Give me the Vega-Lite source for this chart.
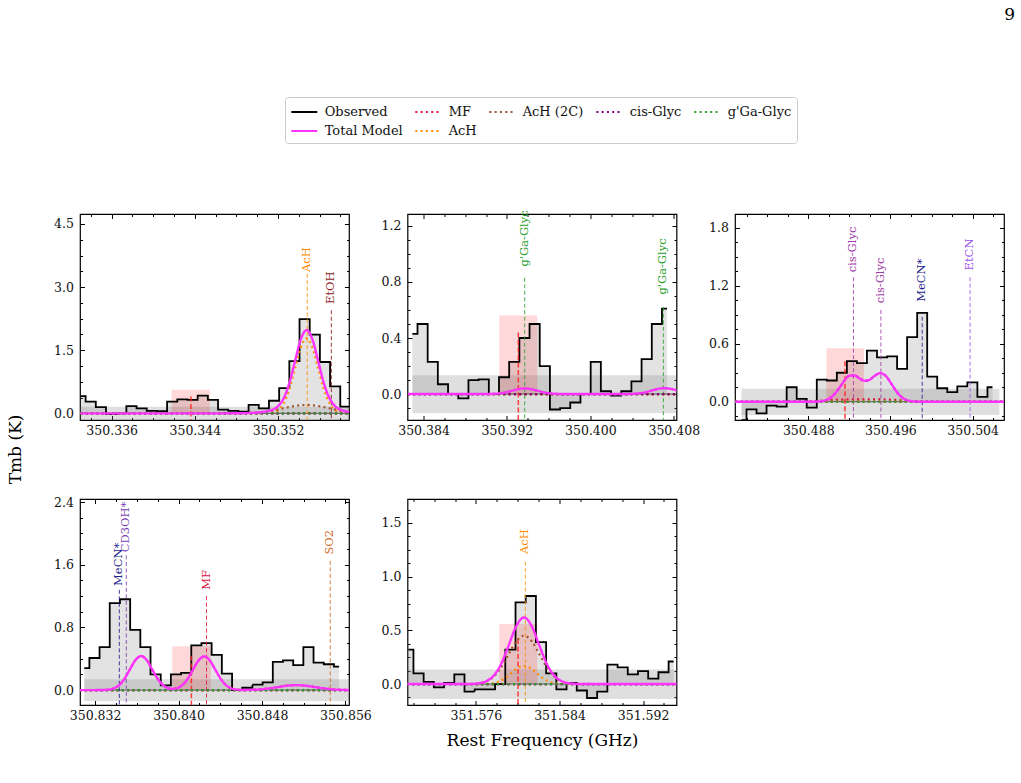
{
"$schema": "https://vega.github.io/schema/vega-lite/v6.json",
"background": "white",
"padding": {"left": 5, "top": 5, "right": 5, "bottom": 5},
"title": {"text": "9", "anchor": "end", "fontSize": 17, "font": "DejaVu Serif", "fontWeight": "normal", "color": "#000", "offset": 73, "dx": 10},
"datasets": {
"band": [
{"p":1,"x1":350.333,"x2":350.35946,"lo":-0.158,"hi":0.158},
{"p":2,"x1":350.38293,"x2":350.40826,"lo":-0.135,"hi":0.135},
{"p":3,"x1":350.4815,"x2":350.5066,"lo":-0.137,"hi":0.134},
{"p":4,"x1":350.83096,"x2":350.85634,"lo":-0.138,"hi":0.14},
{"p":5,"x1":351.56945,"x2":351.5952,"lo":-0.139,"hi":0.136}],
"hl": [
{"p":1,"c":350.34362,"lo":350.34176,"hi":350.34544,"h":0.56,"rt":0.4},
{"p":2,"c":350.39309,"lo":350.39126,"hi":350.39491,"h":0.56,"rt":0.44},
{"p":3,"c":350.49157,"lo":350.48977,"hi":350.49343,"h":0.555,"rt":0.42},
{"p":4,"c":350.84123,"lo":350.8394,"hi":350.84309,"h":0.56,"rt":0.44},
{"p":5,"c":351.58003,"lo":351.57823,"hi":351.58187,"h":0.56,"rt":0.42}],
"mk": [
{"p":1,"x":350.35481,"top":3.32,"ly":3.36,"name":"AcH"},
{"p":1,"x":350.35713,"top":2.45,"ly":2.6,"name":"EtOH"},
{"p":2,"x":350.3937,"top":0.83,"ly":0.91,"name":"g'Ga-Glyc"},
{"p":2,"x":350.407,"top":0.62,"ly":0.71,"name":"g'Ga-Glyc"},
{"p":3,"x":350.4924,"top":1.29,"ly":1.34,"name":"cis-Glyc"},
{"p":3,"x":350.49507,"top":0.95,"ly":1.02,"name":"cis-Glyc"},
{"p":3,"x":350.49909,"top":0.88,"ly":1.035,"name":"MeCN*"},
{"p":3,"x":350.50375,"top":1.29,"ly":1.36,"name":"EtCN"},
{"p":4,"x":350.83432,"top":1.28,"ly":1.33,"name":"MeCN*"},
{"p":4,"x":350.83499,"top":1.72,"ly":1.76,"name":"CD3OH*"},
{"p":4,"x":350.84268,"top":1.2,"ly":1.28,"name":"MF"},
{"p":4,"x":350.85454,"top":1.65,"ly":1.73,"name":"SO2"},
{"p":5,"x":351.58073,"top":1.14,"ly":1.21,"name":"AcH"}],
"obs1": [
{"x":350.33300,"y":0.41,"s":"Observed"},{"x":350.33398,"y":0.28,"s":"Observed"},{"x":350.33496,"y":0.15,"s":"Observed"},{"x":350.33594,"y":-0.02,"s":"Observed"},{"x":350.33692,"y":0.0,"s":"Observed"},{"x":350.33790,"y":0.17,"s":"Observed"},{"x":350.33888,"y":0.12,"s":"Observed"},{"x":350.33986,"y":0.06,"s":"Observed"},{"x":350.34084,"y":0.05,"s":"Observed"},{"x":350.34182,"y":0.28,"s":"Observed"},{"x":350.34280,"y":0.33,"s":"Observed"},{"x":350.34378,"y":0.32,"s":"Observed"},{"x":350.34476,"y":0.42,"s":"Observed"},{"x":350.34574,"y":0.32,"s":"Observed"},{"x":350.34672,"y":0.09,"s":"Observed"},{"x":350.34770,"y":0.06,"s":"Observed"},{"x":350.34868,"y":0.04,"s":"Observed"},{"x":350.34966,"y":0.20,"s":"Observed"},{"x":350.35064,"y":0.12,"s":"Observed"},{"x":350.35162,"y":0.30,"s":"Observed"},{"x":350.35260,"y":0.60,"s":"Observed"},{"x":350.35358,"y":1.24,"s":"Observed"},{"x":350.35456,"y":2.24,"s":"Observed"},{"x":350.35554,"y":1.87,"s":"Observed"},{"x":350.35652,"y":1.22,"s":"Observed"},{"x":350.35750,"y":0.64,"s":"Observed"},{"x":350.35848,"y":0.16,"s":"Observed"},{"x":350.35946,"y":0.10,"s":"Observed"}],
"obs2": [
{"x":350.38293,"y":0.43,"s":"Observed"},{"x":350.38391,"y":0.50,"s":"Observed"},{"x":350.38488,"y":0.23,"s":"Observed"},{"x":350.38586,"y":0.07,"s":"Observed"},{"x":350.38684,"y":0.0,"s":"Observed"},{"x":350.38782,"y":-0.03,"s":"Observed"},{"x":350.38879,"y":0.10,"s":"Observed"},{"x":350.38977,"y":0.105,"s":"Observed"},{"x":350.39075,"y":0.0,"s":"Observed"},{"x":350.39172,"y":0.12,"s":"Observed"},{"x":350.39270,"y":0.23,"s":"Observed"},{"x":350.39368,"y":0.40,"s":"Observed"},{"x":350.39465,"y":0.50,"s":"Observed"},{"x":350.39563,"y":0.20,"s":"Observed"},{"x":350.39661,"y":-0.11,"s":"Observed"},{"x":350.39758,"y":-0.10,"s":"Observed"},{"x":350.39856,"y":-0.06,"s":"Observed"},{"x":350.39954,"y":0.0,"s":"Observed"},{"x":350.40052,"y":0.23,"s":"Observed"},{"x":350.40149,"y":0.02,"s":"Observed"},{"x":350.40247,"y":-0.01,"s":"Observed"},{"x":350.40345,"y":0.02,"s":"Observed"},{"x":350.40442,"y":0.09,"s":"Observed"},{"x":350.40540,"y":0.25,"s":"Observed"},{"x":350.40638,"y":0.50,"s":"Observed"},{"x":350.40735,"y":0.61,"s":"Observed"}],
"obs3": [
{"x":350.48150,"y":-0.19,"s":"Observed"},{"x":350.48248,"y":-0.08,"s":"Observed"},{"x":350.48345,"y":-0.12,"s":"Observed"},{"x":350.48443,"y":-0.04,"s":"Observed"},{"x":350.48541,"y":-0.05,"s":"Observed"},{"x":350.48639,"y":0.15,"s":"Observed"},{"x":350.48736,"y":0.03,"s":"Observed"},{"x":350.48834,"y":-0.06,"s":"Observed"},{"x":350.48932,"y":0.23,"s":"Observed"},{"x":350.49029,"y":0.22,"s":"Observed"},{"x":350.49127,"y":0.30,"s":"Observed"},{"x":350.49225,"y":0.42,"s":"Observed"},{"x":350.49322,"y":0.40,"s":"Observed"},{"x":350.49420,"y":0.53,"s":"Observed"},{"x":350.49518,"y":0.46,"s":"Observed"},{"x":350.49616,"y":0.47,"s":"Observed"},{"x":350.49713,"y":0.34,"s":"Observed"},{"x":350.49811,"y":0.67,"s":"Observed"},{"x":350.49909,"y":0.92,"s":"Observed"},{"x":350.50006,"y":0.26,"s":"Observed"},{"x":350.50104,"y":0.14,"s":"Observed"},{"x":350.50202,"y":0.10,"s":"Observed"},{"x":350.50299,"y":0.16,"s":"Observed"},{"x":350.50397,"y":0.20,"s":"Observed"},{"x":350.50495,"y":0.05,"s":"Observed"},{"x":350.50593,"y":0.15,"s":"Observed"}],
"obs4": [
{"x":350.83096,"y":0.28,"s":"Observed"},{"x":350.83194,"y":0.41,"s":"Observed"},{"x":350.83291,"y":0.55,"s":"Observed"},{"x":350.83389,"y":1.11,"s":"Observed"},{"x":350.83487,"y":1.16,"s":"Observed"},{"x":350.83585,"y":0.77,"s":"Observed"},{"x":350.83682,"y":0.55,"s":"Observed"},{"x":350.83780,"y":0.20,"s":"Observed"},{"x":350.83878,"y":0.06,"s":"Observed"},{"x":350.83975,"y":0.20,"s":"Observed"},{"x":350.84073,"y":0.22,"s":"Observed"},{"x":350.84171,"y":0.57,"s":"Observed"},{"x":350.84268,"y":0.60,"s":"Observed"},{"x":350.84366,"y":0.45,"s":"Observed"},{"x":350.84464,"y":0.21,"s":"Observed"},{"x":350.84562,"y":0.0,"s":"Observed"},{"x":350.84659,"y":0.03,"s":"Observed"},{"x":350.84757,"y":0.07,"s":"Observed"},{"x":350.84855,"y":0.10,"s":"Observed"},{"x":350.84952,"y":0.36,"s":"Observed"},{"x":350.85050,"y":0.38,"s":"Observed"},{"x":350.85148,"y":0.32,"s":"Observed"},{"x":350.85245,"y":0.55,"s":"Observed"},{"x":350.85343,"y":0.35,"s":"Observed"},{"x":350.85441,"y":0.33,"s":"Observed"},{"x":350.85539,"y":0.30,"s":"Observed"}],
"obs5": [
{"x":351.56953,"y":0.32,"s":"Observed"},{"x":351.57051,"y":0.10,"s":"Observed"},{"x":351.57148,"y":0.02,"s":"Observed"},{"x":351.57246,"y":-0.03,"s":"Observed"},{"x":351.57344,"y":0.01,"s":"Observed"},{"x":351.57442,"y":0.09,"s":"Observed"},{"x":351.57539,"y":-0.07,"s":"Observed"},{"x":351.57637,"y":-0.05,"s":"Observed"},{"x":351.57735,"y":-0.05,"s":"Observed"},{"x":351.57832,"y":0.0,"s":"Observed"},{"x":351.57930,"y":0.32,"s":"Observed"},{"x":351.58028,"y":0.76,"s":"Observed"},{"x":351.58125,"y":0.82,"s":"Observed"},{"x":351.58223,"y":0.39,"s":"Observed"},{"x":351.58321,"y":0.10,"s":"Observed"},{"x":351.58419,"y":-0.05,"s":"Observed"},{"x":351.58516,"y":0.01,"s":"Observed"},{"x":351.58614,"y":-0.06,"s":"Observed"},{"x":351.58712,"y":-0.13,"s":"Observed"},{"x":351.58809,"y":-0.07,"s":"Observed"},{"x":351.58907,"y":0.18,"s":"Observed"},{"x":351.59005,"y":0.155,"s":"Observed"},{"x":351.59102,"y":0.09,"s":"Observed"},{"x":351.59200,"y":0.12,"s":"Observed"},{"x":351.59298,"y":0.05,"s":"Observed"},{"x":351.59396,"y":0.11,"s":"Observed"},{"x":351.59493,"y":0.21,"s":"Observed"}],
"mod1": [
{"x":350.333,"y":0,"s":"MF"},{"x":350.3595,"y":0,"s":"MF"},
{"x":350.333,"y":0,"s":"AcH"},{"x":350.35,"y":0,"s":"AcH"},{"x":350.3509,"y":0.004,"s":"AcH"},{"x":350.35145,"y":0.02,"s":"AcH"},{"x":350.352,"y":0.078,"s":"AcH"},{"x":350.35255,"y":0.241,"s":"AcH"},{"x":350.3531,"y":0.578,"s":"AcH"},{"x":350.35365,"y":1.08,"s":"AcH"},{"x":350.3542,"y":1.571,"s":"AcH"},{"x":350.35475,"y":1.78,"s":"AcH"},{"x":350.3553,"y":1.571,"s":"AcH"},{"x":350.35585,"y":1.08,"s":"AcH"},{"x":350.3564,"y":0.578,"s":"AcH"},{"x":350.35695,"y":0.241,"s":"AcH"},{"x":350.3575,"y":0.078,"s":"AcH"},{"x":350.35805,"y":0.02,"s":"AcH"},{"x":350.3586,"y":0.004,"s":"AcH"},{"x":350.3592,"y":0,"s":"AcH"},
{"x":350.333,"y":0,"s":"AcH (2C)"},{"x":350.346,"y":0,"s":"AcH (2C)"},{"x":350.34705,"y":0.0004,"s":"AcH (2C)"},{"x":350.34815,"y":0.0022,"s":"AcH (2C)"},{"x":350.34925,"y":0.0088,"s":"AcH (2C)"},{"x":350.35035,"y":0.027,"s":"AcH (2C)"},{"x":350.35145,"y":0.065,"s":"AcH (2C)"},{"x":350.35255,"y":0.121,"s":"AcH (2C)"},{"x":350.35365,"y":0.1765,"s":"AcH (2C)"},{"x":350.35475,"y":0.2,"s":"AcH (2C)"},{"x":350.35585,"y":0.1765,"s":"AcH (2C)"},{"x":350.35695,"y":0.121,"s":"AcH (2C)"},{"x":350.35805,"y":0.065,"s":"AcH (2C)"},{"x":350.35915,"y":0.027,"s":"AcH (2C)"},
{"x":350.333,"y":0,"s":"cis-Glyc"},{"x":350.3595,"y":0,"s":"cis-Glyc"},
{"x":350.333,"y":0,"s":"g'Ga-Glyc"},{"x":350.3595,"y":0,"s":"g'Ga-Glyc"},
{"x":350.333,"y":0,"s":"Total Model"},{"x":350.347,"y":0.0004,"s":"Total Model"},{"x":350.34815,"y":0.002,"s":"Total Model"},{"x":350.34925,"y":0.009,"s":"Total Model"},{"x":350.35035,"y":0.027,"s":"Total Model"},{"x":350.3509,"y":0.047,"s":"Total Model"},{"x":350.35145,"y":0.085,"s":"Total Model"},{"x":350.352,"y":0.17,"s":"Total Model"},{"x":350.35255,"y":0.362,"s":"Total Model"},{"x":350.3531,"y":0.729,"s":"Total Model"},{"x":350.35365,"y":1.256,"s":"Total Model"},{"x":350.3542,"y":1.765,"s":"Total Model"},{"x":350.35475,"y":1.98,"s":"Total Model"},{"x":350.3553,"y":1.765,"s":"Total Model"},{"x":350.35585,"y":1.256,"s":"Total Model"},{"x":350.3564,"y":0.729,"s":"Total Model"},{"x":350.35695,"y":0.362,"s":"Total Model"},{"x":350.3575,"y":0.17,"s":"Total Model"},{"x":350.35805,"y":0.085,"s":"Total Model"},{"x":350.3586,"y":0.047,"s":"Total Model"},{"x":350.3592,"y":0.02,"s":"Total Model"}],
"mod2": [
{"x":350.3825,"y":0,"s":"MF"},{"x":350.4083,"y":0,"s":"MF"},
{"x":350.3825,"y":0,"s":"AcH"},{"x":350.4083,"y":0,"s":"AcH"},
{"x":350.3825,"y":0,"s":"AcH (2C)"},{"x":350.4083,"y":0,"s":"AcH (2C)"},
{"x":350.3825,"y":0,"s":"cis-Glyc"},{"x":350.4083,"y":0,"s":"cis-Glyc"},
{"x":350.3825,"y":0,"s":"g'Ga-Glyc"},{"x":350.3895,"y":0.0001,"s":"g'Ga-Glyc"},{"x":350.3901,"y":0.0004,"s":"g'Ga-Glyc"},{"x":350.3907,"y":0.0018,"s":"g'Ga-Glyc"},{"x":350.3913,"y":0.0054,"s":"g'Ga-Glyc"},{"x":350.3919,"y":0.013,"s":"g'Ga-Glyc"},{"x":350.3925,"y":0.0243,"s":"g'Ga-Glyc"},{"x":350.3931,"y":0.0353,"s":"g'Ga-Glyc"},{"x":350.3937,"y":0.04,"s":"g'Ga-Glyc"},{"x":350.3943,"y":0.0353,"s":"g'Ga-Glyc"},{"x":350.3949,"y":0.0243,"s":"g'Ga-Glyc"},{"x":350.3955,"y":0.013,"s":"g'Ga-Glyc"},{"x":350.3961,"y":0.0054,"s":"g'Ga-Glyc"},{"x":350.3967,"y":0.0018,"s":"g'Ga-Glyc"},{"x":350.3973,"y":0.0004,"s":"g'Ga-Glyc"},{"x":350.3979,"y":0.0001,"s":"g'Ga-Glyc"},{"x":350.4029,"y":0.0001,"s":"g'Ga-Glyc"},{"x":350.4035,"y":0.0005,"s":"g'Ga-Glyc"},{"x":350.4041,"y":0.0018,"s":"g'Ga-Glyc"},{"x":350.4047,"y":0.0057,"s":"g'Ga-Glyc"},{"x":350.4053,"y":0.0136,"s":"g'Ga-Glyc"},{"x":350.4059,"y":0.0255,"s":"g'Ga-Glyc"},{"x":350.4065,"y":0.0371,"s":"g'Ga-Glyc"},{"x":350.4071,"y":0.042,"s":"g'Ga-Glyc"},{"x":350.4077,"y":0.0371,"s":"g'Ga-Glyc"},{"x":350.4083,"y":0.0255,"s":"g'Ga-Glyc"},
{"x":350.3825,"y":0,"s":"Total Model"},{"x":350.3895,"y":0.0001,"s":"Total Model"},{"x":350.3901,"y":0.0004,"s":"Total Model"},{"x":350.3907,"y":0.0018,"s":"Total Model"},{"x":350.3913,"y":0.0054,"s":"Total Model"},{"x":350.3919,"y":0.013,"s":"Total Model"},{"x":350.3925,"y":0.0243,"s":"Total Model"},{"x":350.3931,"y":0.0353,"s":"Total Model"},{"x":350.3937,"y":0.04,"s":"Total Model"},{"x":350.3943,"y":0.0353,"s":"Total Model"},{"x":350.3949,"y":0.0243,"s":"Total Model"},{"x":350.3955,"y":0.013,"s":"Total Model"},{"x":350.3961,"y":0.0054,"s":"Total Model"},{"x":350.3967,"y":0.0018,"s":"Total Model"},{"x":350.3973,"y":0.0004,"s":"Total Model"},{"x":350.3979,"y":0.0001,"s":"Total Model"},{"x":350.4029,"y":0.0001,"s":"Total Model"},{"x":350.4035,"y":0.0005,"s":"Total Model"},{"x":350.4041,"y":0.0018,"s":"Total Model"},{"x":350.4047,"y":0.0057,"s":"Total Model"},{"x":350.4053,"y":0.0136,"s":"Total Model"},{"x":350.4059,"y":0.0255,"s":"Total Model"},{"x":350.4065,"y":0.0371,"s":"Total Model"},{"x":350.4071,"y":0.042,"s":"Total Model"},{"x":350.4077,"y":0.0371,"s":"Total Model"},{"x":350.4083,"y":0.0255,"s":"Total Model"}],
"mod3": [
{"x":350.4809,"y":0,"s":"MF"},{"x":350.488,"y":0,"s":"MF"},{"x":350.4895,"y":0.012,"s":"MF"},{"x":350.4905,"y":0.02,"s":"MF"},{"x":350.492,"y":0.024,"s":"MF"},{"x":350.4935,"y":0.025,"s":"MF"},{"x":350.495,"y":0.024,"s":"MF"},{"x":350.4965,"y":0.02,"s":"MF"},{"x":350.4975,"y":0.012,"s":"MF"},{"x":350.499,"y":0,"s":"MF"},{"x":350.5071,"y":0,"s":"MF"},
{"x":350.4809,"y":0,"s":"AcH"},{"x":350.5071,"y":0,"s":"AcH"},
{"x":350.4809,"y":0,"s":"AcH (2C)"},{"x":350.5071,"y":0,"s":"AcH (2C)"},
{"x":350.4809,"y":0,"s":"cis-Glyc"},{"x":350.4885,"y":0.0005,"s":"cis-Glyc"},{"x":350.489,"y":0.003,"s":"cis-Glyc"},{"x":350.4895,"y":0.01,"s":"cis-Glyc"},{"x":350.49,"y":0.03,"s":"cis-Glyc"},{"x":350.4905,"y":0.073,"s":"cis-Glyc"},{"x":350.491,"y":0.14,"s":"cis-Glyc"},{"x":350.4915,"y":0.217,"s":"cis-Glyc"},{"x":350.492,"y":0.269,"s":"cis-Glyc"},{"x":350.4925,"y":0.273,"s":"cis-Glyc"},{"x":350.493,"y":0.241,"s":"cis-Glyc"},{"x":350.4935,"y":0.217,"s":"cis-Glyc"},{"x":350.494,"y":0.23,"s":"cis-Glyc"},{"x":350.4945,"y":0.271,"s":"cis-Glyc"},{"x":350.495,"y":0.296,"s":"cis-Glyc"},{"x":350.4955,"y":0.272,"s":"cis-Glyc"},{"x":350.496,"y":0.201,"s":"cis-Glyc"},{"x":350.4965,"y":0.119,"s":"cis-Glyc"},{"x":350.497,"y":0.056,"s":"cis-Glyc"},{"x":350.4975,"y":0.021,"s":"cis-Glyc"},{"x":350.498,"y":0.0064,"s":"cis-Glyc"},{"x":350.4985,"y":0.0015,"s":"cis-Glyc"},{"x":350.499,"y":0.0003,"s":"cis-Glyc"},{"x":350.5071,"y":0,"s":"cis-Glyc"},
{"x":350.4809,"y":0,"s":"g'Ga-Glyc"},{"x":350.5071,"y":0,"s":"g'Ga-Glyc"},
{"x":350.4809,"y":0,"s":"Total Model"},{"x":350.4885,"y":0.0005,"s":"Total Model"},{"x":350.489,"y":0.003,"s":"Total Model"},{"x":350.4895,"y":0.01,"s":"Total Model"},{"x":350.49,"y":0.03,"s":"Total Model"},{"x":350.4905,"y":0.073,"s":"Total Model"},{"x":350.491,"y":0.14,"s":"Total Model"},{"x":350.4915,"y":0.217,"s":"Total Model"},{"x":350.492,"y":0.269,"s":"Total Model"},{"x":350.4925,"y":0.273,"s":"Total Model"},{"x":350.493,"y":0.241,"s":"Total Model"},{"x":350.4935,"y":0.217,"s":"Total Model"},{"x":350.494,"y":0.23,"s":"Total Model"},{"x":350.4945,"y":0.271,"s":"Total Model"},{"x":350.495,"y":0.296,"s":"Total Model"},{"x":350.4955,"y":0.272,"s":"Total Model"},{"x":350.496,"y":0.201,"s":"Total Model"},{"x":350.4965,"y":0.119,"s":"Total Model"},{"x":350.497,"y":0.056,"s":"Total Model"},{"x":350.4975,"y":0.021,"s":"Total Model"},{"x":350.498,"y":0.0064,"s":"Total Model"},{"x":350.4985,"y":0.0015,"s":"Total Model"},{"x":350.499,"y":0.0003,"s":"Total Model"},{"x":350.5071,"y":0,"s":"Total Model"}],
"mod4": [
{"x":350.8305,"y":0,"s":"MF"},{"x":350.83266,"y":0.001,"s":"MF"},{"x":350.8332,"y":0.005,"s":"MF"},{"x":350.83373,"y":0.019,"s":"MF"},{"x":350.83426,"y":0.059,"s":"MF"},{"x":350.8348,"y":0.141,"s":"MF"},{"x":350.83533,"y":0.264,"s":"MF"},{"x":350.83587,"y":0.384,"s":"MF"},{"x":350.8364,"y":0.435,"s":"MF"},{"x":350.83694,"y":0.384,"s":"MF"},{"x":350.83747,"y":0.264,"s":"MF"},{"x":350.83801,"y":0.141,"s":"MF"},{"x":350.83854,"y":0.06,"s":"MF"},{"x":350.83908,"y":0.022,"s":"MF"},{"x":350.8394,"y":0.016,"s":"MF"},{"x":350.83978,"y":0.022,"s":"MF"},{"x":350.84031,"y":0.059,"s":"MF"},{"x":350.84085,"y":0.14,"s":"MF"},{"x":350.84138,"y":0.261,"s":"MF"},{"x":350.84192,"y":0.379,"s":"MF"},{"x":350.84245,"y":0.43,"s":"MF"},{"x":350.84299,"y":0.379,"s":"MF"},{"x":350.84352,"y":0.261,"s":"MF"},{"x":350.84406,"y":0.14,"s":"MF"},{"x":350.84459,"y":0.058,"s":"MF"},{"x":350.84513,"y":0.019,"s":"MF"},{"x":350.84566,"y":0.006,"s":"MF"},{"x":350.8462,"y":0.002,"s":"MF"},{"x":350.8468,"y":0.003,"s":"MF"},{"x":350.8477,"y":0.0087,"s":"MF"},{"x":350.8486,"y":0.0208,"s":"MF"},{"x":350.8495,"y":0.0388,"s":"MF"},{"x":350.8504,"y":0.0565,"s":"MF"},{"x":350.8513,"y":0.064,"s":"MF"},{"x":350.8522,"y":0.0565,"s":"MF"},{"x":350.8531,"y":0.0388,"s":"MF"},{"x":350.854,"y":0.0208,"s":"MF"},{"x":350.8549,"y":0.0087,"s":"MF"},{"x":350.8558,"y":0.0028,"s":"MF"},{"x":350.8567,"y":0.0007,"s":"MF"},
{"x":350.8305,"y":0,"s":"AcH"},{"x":350.8567,"y":0,"s":"AcH"},
{"x":350.8305,"y":0,"s":"AcH (2C)"},{"x":350.8567,"y":0,"s":"AcH (2C)"},
{"x":350.8305,"y":0,"s":"cis-Glyc"},{"x":350.8567,"y":0,"s":"cis-Glyc"},
{"x":350.8305,"y":0,"s":"g'Ga-Glyc"},{"x":350.8567,"y":0,"s":"g'Ga-Glyc"},
{"x":350.8305,"y":0,"s":"Total Model"},{"x":350.83266,"y":0.001,"s":"Total Model"},{"x":350.8332,"y":0.005,"s":"Total Model"},{"x":350.83373,"y":0.019,"s":"Total Model"},{"x":350.83426,"y":0.059,"s":"Total Model"},{"x":350.8348,"y":0.141,"s":"Total Model"},{"x":350.83533,"y":0.264,"s":"Total Model"},{"x":350.83587,"y":0.384,"s":"Total Model"},{"x":350.8364,"y":0.435,"s":"Total Model"},{"x":350.83694,"y":0.384,"s":"Total Model"},{"x":350.83747,"y":0.264,"s":"Total Model"},{"x":350.83801,"y":0.141,"s":"Total Model"},{"x":350.83854,"y":0.06,"s":"Total Model"},{"x":350.83908,"y":0.022,"s":"Total Model"},{"x":350.8394,"y":0.016,"s":"Total Model"},{"x":350.83978,"y":0.022,"s":"Total Model"},{"x":350.84031,"y":0.059,"s":"Total Model"},{"x":350.84085,"y":0.14,"s":"Total Model"},{"x":350.84138,"y":0.261,"s":"Total Model"},{"x":350.84192,"y":0.379,"s":"Total Model"},{"x":350.84245,"y":0.43,"s":"Total Model"},{"x":350.84299,"y":0.379,"s":"Total Model"},{"x":350.84352,"y":0.261,"s":"Total Model"},{"x":350.84406,"y":0.14,"s":"Total Model"},{"x":350.84459,"y":0.058,"s":"Total Model"},{"x":350.84513,"y":0.019,"s":"Total Model"},{"x":350.84566,"y":0.006,"s":"Total Model"},{"x":350.8462,"y":0.002,"s":"Total Model"},{"x":350.8468,"y":0.003,"s":"Total Model"},{"x":350.8477,"y":0.0087,"s":"Total Model"},{"x":350.8486,"y":0.0208,"s":"Total Model"},{"x":350.8495,"y":0.0388,"s":"Total Model"},{"x":350.8504,"y":0.0565,"s":"Total Model"},{"x":350.8513,"y":0.064,"s":"Total Model"},{"x":350.8522,"y":0.0565,"s":"Total Model"},{"x":350.8531,"y":0.0388,"s":"Total Model"},{"x":350.854,"y":0.0208,"s":"Total Model"},{"x":350.8549,"y":0.0087,"s":"Total Model"},{"x":350.8558,"y":0.0028,"s":"Total Model"},{"x":350.8567,"y":0.0007,"s":"Total Model"}],
"mod5": [
{"x":351.5694,"y":0,"s":"MF"},{"x":351.5953,"y":0,"s":"MF"},
{"x":351.5694,"y":0,"s":"AcH"},{"x":351.5761,"y":0.0001,"s":"AcH"},{"x":351.57685,"y":0.0013,"s":"AcH"},{"x":351.5776,"y":0.0075,"s":"AcH"},{"x":351.57835,"y":0.029,"s":"AcH"},{"x":351.5791,"y":0.078,"s":"AcH"},{"x":351.57985,"y":0.14,"s":"AcH"},{"x":351.5806,"y":0.17,"s":"AcH"},{"x":351.58135,"y":0.14,"s":"AcH"},{"x":351.5821,"y":0.078,"s":"AcH"},{"x":351.58285,"y":0.029,"s":"AcH"},{"x":351.5836,"y":0.0075,"s":"AcH"},{"x":351.58435,"y":0.0013,"s":"AcH"},{"x":351.5851,"y":0.0001,"s":"AcH"},{"x":351.5953,"y":0,"s":"AcH"},
{"x":351.5694,"y":0,"s":"AcH (2C)"},{"x":351.57535,"y":0.001,"s":"AcH (2C)"},{"x":351.5761,"y":0.005,"s":"AcH (2C)"},{"x":351.57685,"y":0.02,"s":"AcH (2C)"},{"x":351.5776,"y":0.061,"s":"AcH (2C)"},{"x":351.57835,"y":0.146,"s":"AcH (2C)"},{"x":351.5791,"y":0.273,"s":"AcH (2C)"},{"x":351.57985,"y":0.397,"s":"AcH (2C)"},{"x":351.5806,"y":0.45,"s":"AcH (2C)"},{"x":351.58135,"y":0.397,"s":"AcH (2C)"},{"x":351.5821,"y":0.273,"s":"AcH (2C)"},{"x":351.58285,"y":0.146,"s":"AcH (2C)"},{"x":351.5836,"y":0.061,"s":"AcH (2C)"},{"x":351.58435,"y":0.02,"s":"AcH (2C)"},{"x":351.5851,"y":0.005,"s":"AcH (2C)"},{"x":351.58585,"y":0.001,"s":"AcH (2C)"},{"x":351.5953,"y":0,"s":"AcH (2C)"},
{"x":351.5694,"y":0,"s":"cis-Glyc"},{"x":351.5953,"y":0,"s":"cis-Glyc"},
{"x":351.5694,"y":0,"s":"g'Ga-Glyc"},{"x":351.5953,"y":0,"s":"g'Ga-Glyc"},
{"x":351.5694,"y":0,"s":"Total Model"},{"x":351.57535,"y":0.001,"s":"Total Model"},{"x":351.5761,"y":0.005,"s":"Total Model"},{"x":351.57685,"y":0.021,"s":"Total Model"},{"x":351.5776,"y":0.068,"s":"Total Model"},{"x":351.57835,"y":0.175,"s":"Total Model"},{"x":351.5791,"y":0.351,"s":"Total Model"},{"x":351.57985,"y":0.537,"s":"Total Model"},{"x":351.5806,"y":0.62,"s":"Total Model"},{"x":351.58135,"y":0.537,"s":"Total Model"},{"x":351.5821,"y":0.351,"s":"Total Model"},{"x":351.58285,"y":0.175,"s":"Total Model"},{"x":351.5836,"y":0.068,"s":"Total Model"},{"x":351.58435,"y":0.021,"s":"Total Model"},{"x":351.5851,"y":0.005,"s":"Total Model"},{"x":351.58585,"y":0.001,"s":"Total Model"},{"x":351.5953,"y":0,"s":"Total Model"}]
},
"concat": [
{"width": 269, "height": 206,
 "resolve": {"axis": {"x": "independent", "y": "independent"}},
 "layer": [
  {"data": {"name": "band"}, "transform": [{"filter": "datum.p == 1"}],
   "mark": {"type": "rect", "color": "#808080", "opacity": 0.25, "clip": true},
   "encoding": {
    "x": {"field": "x1", "type": "quantitative", "scale": {"domain": [350.33295, 350.35883], "nice": false, "zero": false},
          "axis": {"orient": "bottom", "values": [350.336, 350.344, 350.352], "format": ".3f", "tickSize": -4.5, "labelPadding": 9, "title": null}},
    "x2": {"field": "x2"},
    "y": {"field": "lo", "type": "quantitative", "scale": {"domain": [-0.158, 4.737], "nice": false, "zero": false},
          "axis": {"orient": "left", "values": [0, 1.5, 3, 4.5], "format": ".1f", "tickSize": -4.5, "labelPadding": 11,
                   "title": "Tmb (K)", "titleX": -56, "titleY": 235, "titleFontSize": 17, "titleFont": "DejaVu Serif", "titleFontWeight": "normal", "titleColor": "#000"}},
    "y2": {"field": "hi"}}},
  {"data": {"name": "obs1"},
   "mark": {"type": "area", "interpolate": "step", "color": "#808080", "opacity": 0.22, "clip": true},
   "encoding": {
    "x": {"field": "x", "type": "quantitative", "axis": {"orient": "top", "values": [350.336, 350.344, 350.352], "labels": false, "tickSize": -4.5, "title": null}},
    "y": {"field": "y", "type": "quantitative", "axis": {"orient": "right", "values": [0, 1.5, 3, 4.5], "labels": false, "tickSize": -4.5, "title": null}},
    "y2": {"datum": 0}}},
  {"data": {"name": "hl"}, "transform": [{"filter": "datum.p == 1"}],
   "mark": {"type": "rect", "color": "#ff0000", "opacity": 0.15},
   "encoding": {
    "x": {"field": "lo", "type": "quantitative", "axis": {"orient": "top", "values": [350.334, 350.338, 350.340, 350.342, 350.346, 350.348, 350.350, 350.354, 350.356, 350.358], "labels": false, "tickSize": -2.5, "title": null}},
    "x2": {"field": "hi"},
    "y": {"field": "h", "type": "quantitative", "axis": {"orient": "right", "values": [0.375, 0.75, 1.125, 1.875, 2.25, 2.625, 3.375, 3.75, 4.125], "labels": false, "tickSize": -2.5, "title": null}},
    "y2": {"datum": 0}}},
  {"data": {"values": [{}]}, "mark": {"type": "rule", "color": "#555", "strokeWidth": 1},
   "encoding": {"y": {"datum": 0, "type": "quantitative", "axis": null}}},
  {"data": {"name": "obs1"},
   "mark": {"type": "line", "interpolate": "step", "strokeWidth": 1.8, "clip": true},
   "encoding": {
    "x": {"field": "x", "type": "quantitative", "axis": {"orient": "bottom", "values": [350.334, 350.338, 350.340, 350.342, 350.346, 350.348, 350.350, 350.354, 350.356, 350.358], "labels": false, "tickSize": -2.5, "title": null}},
    "y": {"field": "y", "type": "quantitative", "axis": {"orient": "left", "values": [0.375, 0.75, 1.125, 1.875, 2.25, 2.625, 3.375, 3.75, 4.125], "labels": false, "tickSize": -2.5, "title": null}},
    "color": {"field": "s", "type": "nominal", "title": null, "scale": {"domain": ["Observed", "MF", "AcH (2C)", "cis-Glyc", "g'Ga-Glyc", "Total Model", "AcH"], "range": ["#000000", "#dc143c", "#a0522d", "#800080", "#2ca02c", "#ff33ff", "#ff8c00"]}},
    "strokeDash": {"field": "s", "type": "nominal", "title": null, "scale": {"domain": ["Observed", "MF", "AcH (2C)", "cis-Glyc", "g'Ga-Glyc", "Total Model", "AcH"], "range": [[1, 0], [2, 3.3], [2, 3.3], [2, 3.3], [2, 3.3], [1, 0], [2, 3.3]]}}}},
  {"data": {"name": "mk"}, "transform": [{"filter": "datum.p == 1"}],
   "mark": {"type": "rule", "strokeDash": [4, 2.5], "strokeWidth": 1, "opacity": 0.85},
   "encoding": {
    "x": {"field": "x", "type": "quantitative", "axis": null},
    "y": {"field": "top", "type": "quantitative", "axis": null},
    "y2": {"datum": -0.158},
    "stroke": {"field": "name", "type": "nominal", "legend": null, "scale": {"domain": ["AcH", "EtOH", "g'Ga-Glyc", "cis-Glyc", "MeCN*", "EtCN", "CD3OH*", "MF", "SO2"], "range": ["#ff8c00", "#8b1a1a", "#2ca02c", "#a03ca8", "#1c1c8c", "#9b55ee", "#7b3fb5", "#dc143c", "#d2691e"]}}}},
  {"data": {"name": "hl"}, "transform": [{"filter": "datum.p == 1"}],
   "mark": {"type": "rule", "color": "#ff2020", "strokeDash": [5, 2.5], "strokeWidth": 1.5, "opacity": 0.85},
   "encoding": {"x": {"field": "c", "type": "quantitative", "axis": null}, "y": {"field": "rt", "type": "quantitative", "axis": null}, "y2": {"datum": -0.158}}},
  {"data": {"name": "mod1"}, "transform": [{"filter": "datum.s != 'Total Model'"}],
   "mark": {"type": "line", "interpolate": "monotone", "strokeWidth": 2.2, "clip": true},
   "encoding": {
    "x": {"field": "x", "type": "quantitative", "axis": null},
    "y": {"field": "y", "type": "quantitative", "axis": null},
    "color": {"field": "s", "type": "nominal", "title": null},
    "strokeDash": {"field": "s", "type": "nominal", "title": null}}},
  {"data": {"name": "mod1"}, "transform": [{"filter": "datum.s == 'Total Model'"}],
   "mark": {"type": "line", "interpolate": "monotone", "strokeWidth": 2.4, "clip": true},
   "encoding": {
    "x": {"field": "x", "type": "quantitative", "axis": null},
    "y": {"field": "y", "type": "quantitative", "axis": null},
    "color": {"field": "s", "type": "nominal", "title": null},
    "strokeDash": {"field": "s", "type": "nominal", "title": null}}},
  {"data": {"name": "mk"}, "transform": [{"filter": "datum.p == 1"}],
   "mark": {"type": "text", "angle": 270, "align": "left", "baseline": "middle", "fontSize": 11.5, "font": "DejaVu Serif"},
   "encoding": {
    "x": {"field": "x", "type": "quantitative", "axis": null},
    "y": {"field": "ly", "type": "quantitative", "axis": null},
    "text": {"field": "name"},
    "fill": {"field": "name", "type": "nominal", "legend": null, "scale": {"domain": ["AcH", "EtOH", "g'Ga-Glyc", "cis-Glyc", "MeCN*", "EtCN", "CD3OH*", "MF", "SO2"], "range": ["#ff8c00", "#8b1a1a", "#2ca02c", "#a03ca8", "#1c1c8c", "#9b55ee", "#7b3fb5", "#dc143c", "#d2691e"]}}}}
 ]},
{"width": 269, "height": 206,
 "resolve": {"axis": {"x": "independent", "y": "independent"}},
 "layer": [
  {"data": {"name": "band"}, "transform": [{"filter": "datum.p == 2"}],
   "mark": {"type": "rect", "color": "#808080", "opacity": 0.25, "clip": true},
   "encoding": {
    "x": {"field": "x1", "type": "quantitative", "scale": {"domain": [350.38246, 350.40826], "nice": false, "zero": false},
          "axis": {"orient": "bottom", "values": [350.384, 350.392, 350.400, 350.408], "format": ".3f", "tickSize": -4.5, "labelPadding": 9, "title": null}},
    "x2": {"field": "x2"},
    "y": {"field": "lo", "type": "quantitative", "scale": {"domain": [-0.185, 1.285], "nice": false, "zero": false},
          "axis": {"orient": "left", "values": [0, 0.4, 0.8, 1.2], "format": ".1f", "tickSize": -4.5, "labelPadding": 11, "title": null}},
    "y2": {"field": "hi"}}},
  {"data": {"name": "obs2"},
   "mark": {"type": "area", "interpolate": "step", "color": "#808080", "opacity": 0.22, "clip": true},
   "encoding": {
    "x": {"field": "x", "type": "quantitative", "axis": {"orient": "top", "values": [350.384, 350.392, 350.400, 350.408], "labels": false, "tickSize": -4.5, "title": null}},
    "y": {"field": "y", "type": "quantitative", "axis": {"orient": "right", "values": [0, 0.4, 0.8, 1.2], "labels": false, "tickSize": -4.5, "title": null}},
    "y2": {"datum": 0}}},
  {"data": {"name": "hl"}, "transform": [{"filter": "datum.p == 2"}],
   "mark": {"type": "rect", "color": "#ff0000", "opacity": 0.15},
   "encoding": {
    "x": {"field": "lo", "type": "quantitative", "axis": {"orient": "top", "values": [350.386, 350.388, 350.390, 350.394, 350.396, 350.398, 350.402, 350.404, 350.406], "labels": false, "tickSize": -2.5, "title": null}},
    "x2": {"field": "hi"},
    "y": {"field": "h", "type": "quantitative", "axis": {"orient": "right", "values": [-0.1, 0.1, 0.2, 0.3, 0.5, 0.6, 0.7, 0.9, 1.0, 1.1], "labels": false, "tickSize": -2.5, "title": null}},
    "y2": {"datum": 0}}},
  {"data": {"values": [{}]}, "mark": {"type": "rule", "color": "#555", "strokeWidth": 1},
   "encoding": {"y": {"datum": 0, "type": "quantitative", "axis": null}}},
  {"data": {"name": "obs2"},
   "mark": {"type": "line", "interpolate": "step", "strokeWidth": 1.8, "clip": true},
   "encoding": {
    "x": {"field": "x", "type": "quantitative", "axis": {"orient": "bottom", "values": [350.386, 350.388, 350.390, 350.394, 350.396, 350.398, 350.402, 350.404, 350.406], "labels": false, "tickSize": -2.5, "title": null}},
    "y": {"field": "y", "type": "quantitative", "axis": {"orient": "left", "values": [-0.1, 0.1, 0.2, 0.3, 0.5, 0.6, 0.7, 0.9, 1.0, 1.1], "labels": false, "tickSize": -2.5, "title": null}},
    "color": {"field": "s", "type": "nominal", "title": null},
    "strokeDash": {"field": "s", "type": "nominal", "title": null}}},
  {"data": {"name": "mk"}, "transform": [{"filter": "datum.p == 2"}],
   "mark": {"type": "rule", "strokeDash": [4, 2.5], "strokeWidth": 1, "opacity": 0.85},
   "encoding": {
    "x": {"field": "x", "type": "quantitative", "axis": null},
    "y": {"field": "top", "type": "quantitative", "axis": null},
    "y2": {"datum": -0.185},
    "stroke": {"field": "name", "type": "nominal", "legend": null}}},
  {"data": {"name": "hl"}, "transform": [{"filter": "datum.p == 2"}],
   "mark": {"type": "rule", "color": "#ff2020", "strokeDash": [5, 2.5], "strokeWidth": 1.5, "opacity": 0.85},
   "encoding": {"x": {"field": "c", "type": "quantitative", "axis": null}, "y": {"field": "rt", "type": "quantitative", "axis": null}, "y2": {"datum": -0.185}}},
  {"data": {"name": "mod2"}, "transform": [{"filter": "datum.s != 'Total Model'"}],
   "mark": {"type": "line", "interpolate": "monotone", "strokeWidth": 2.2, "clip": true},
   "encoding": {
    "x": {"field": "x", "type": "quantitative", "axis": null},
    "y": {"field": "y", "type": "quantitative", "axis": null},
    "color": {"field": "s", "type": "nominal", "title": null},
    "strokeDash": {"field": "s", "type": "nominal", "title": null}}},
  {"data": {"name": "mod2"}, "transform": [{"filter": "datum.s == 'Total Model'"}],
   "mark": {"type": "line", "interpolate": "monotone", "strokeWidth": 2.4, "clip": true},
   "encoding": {
    "x": {"field": "x", "type": "quantitative", "axis": null},
    "y": {"field": "y", "type": "quantitative", "axis": null},
    "color": {"field": "s", "type": "nominal", "title": null},
    "strokeDash": {"field": "s", "type": "nominal", "title": null}}},
  {"data": {"name": "mk"}, "transform": [{"filter": "datum.p == 2"}],
   "mark": {"type": "text", "angle": 270, "align": "left", "baseline": "middle", "fontSize": 11.5, "font": "DejaVu Serif"},
   "encoding": {
    "x": {"field": "x", "type": "quantitative", "axis": null},
    "y": {"field": "ly", "type": "quantitative", "axis": null},
    "text": {"field": "name"},
    "fill": {"field": "name", "type": "nominal", "legend": null}}}
 ]},
{"width": 269, "height": 206,
 "resolve": {"axis": {"x": "independent", "y": "independent"}},
 "layer": [
  {"data": {"name": "band"}, "transform": [{"filter": "datum.p == 3"}],
   "mark": {"type": "rect", "color": "#808080", "opacity": 0.25, "clip": true},
   "encoding": {
    "x": {"field": "x1", "type": "quantitative", "scale": {"domain": [350.48087, 350.50705], "nice": false, "zero": false},
          "axis": {"orient": "bottom", "values": [350.488, 350.496, 350.504], "format": ".3f", "tickSize": -4.5, "labelPadding": 9, "title": null}},
    "x2": {"field": "x2"},
    "y": {"field": "lo", "type": "quantitative", "scale": {"domain": [-0.189, 1.944], "nice": false, "zero": false},
          "axis": {"orient": "left", "values": [0, 0.6, 1.2, 1.8], "format": ".1f", "tickSize": -4.5, "labelPadding": 11, "title": null}},
    "y2": {"field": "hi"}}},
  {"data": {"name": "obs3"},
   "mark": {"type": "area", "interpolate": "step", "color": "#808080", "opacity": 0.22, "clip": true},
   "encoding": {
    "x": {"field": "x", "type": "quantitative", "axis": {"orient": "top", "values": [350.488, 350.496, 350.504], "labels": false, "tickSize": -4.5, "title": null}},
    "y": {"field": "y", "type": "quantitative", "axis": {"orient": "right", "values": [0, 0.6, 1.2, 1.8], "labels": false, "tickSize": -4.5, "title": null}},
    "y2": {"datum": 0}}},
  {"data": {"name": "hl"}, "transform": [{"filter": "datum.p == 3"}],
   "mark": {"type": "rect", "color": "#ff0000", "opacity": 0.15},
   "encoding": {
    "x": {"field": "lo", "type": "quantitative", "axis": {"orient": "top", "values": [350.482, 350.484, 350.486, 350.490, 350.492, 350.494, 350.498, 350.500, 350.502, 350.506], "labels": false, "tickSize": -2.5, "title": null}},
    "x2": {"field": "hi"},
    "y": {"field": "h", "type": "quantitative", "axis": {"orient": "right", "values": [-0.15, 0.15, 0.3, 0.45, 0.75, 0.9, 1.05, 1.35, 1.5, 1.65], "labels": false, "tickSize": -2.5, "title": null}},
    "y2": {"datum": 0}}},
  {"data": {"values": [{}]}, "mark": {"type": "rule", "color": "#555", "strokeWidth": 1},
   "encoding": {"y": {"datum": 0, "type": "quantitative", "axis": null}}},
  {"data": {"name": "obs3"},
   "mark": {"type": "line", "interpolate": "step", "strokeWidth": 1.8, "clip": true},
   "encoding": {
    "x": {"field": "x", "type": "quantitative", "axis": {"orient": "bottom", "values": [350.482, 350.484, 350.486, 350.490, 350.492, 350.494, 350.498, 350.500, 350.502, 350.506], "labels": false, "tickSize": -2.5, "title": null}},
    "y": {"field": "y", "type": "quantitative", "axis": {"orient": "left", "values": [-0.15, 0.15, 0.3, 0.45, 0.75, 0.9, 1.05, 1.35, 1.5, 1.65], "labels": false, "tickSize": -2.5, "title": null}},
    "color": {"field": "s", "type": "nominal", "title": null},
    "strokeDash": {"field": "s", "type": "nominal", "title": null}}},
  {"data": {"name": "mk"}, "transform": [{"filter": "datum.p == 3"}],
   "mark": {"type": "rule", "strokeDash": [4, 2.5], "strokeWidth": 1, "opacity": 0.85},
   "encoding": {
    "x": {"field": "x", "type": "quantitative", "axis": null},
    "y": {"field": "top", "type": "quantitative", "axis": null},
    "y2": {"datum": -0.189},
    "stroke": {"field": "name", "type": "nominal", "legend": null}}},
  {"data": {"name": "hl"}, "transform": [{"filter": "datum.p == 3"}],
   "mark": {"type": "rule", "color": "#ff2020", "strokeDash": [5, 2.5], "strokeWidth": 1.5, "opacity": 0.85},
   "encoding": {"x": {"field": "c", "type": "quantitative", "axis": null}, "y": {"field": "rt", "type": "quantitative", "axis": null}, "y2": {"datum": -0.189}}},
  {"data": {"name": "mod3"}, "transform": [{"filter": "datum.s != 'Total Model'"}],
   "mark": {"type": "line", "interpolate": "monotone", "strokeWidth": 2.2, "clip": true},
   "encoding": {
    "x": {"field": "x", "type": "quantitative", "axis": null},
    "y": {"field": "y", "type": "quantitative", "axis": null},
    "color": {"field": "s", "type": "nominal", "title": null},
    "strokeDash": {"field": "s", "type": "nominal", "title": null}}},
  {"data": {"name": "mod3"}, "transform": [{"filter": "datum.s == 'Total Model'"}],
   "mark": {"type": "line", "interpolate": "monotone", "strokeWidth": 2.4, "clip": true},
   "encoding": {
    "x": {"field": "x", "type": "quantitative", "axis": null},
    "y": {"field": "y", "type": "quantitative", "axis": null},
    "color": {"field": "s", "type": "nominal", "title": null},
    "strokeDash": {"field": "s", "type": "nominal", "title": null}}},
  {"data": {"name": "mk"}, "transform": [{"filter": "datum.p == 3"}],
   "mark": {"type": "text", "angle": 270, "align": "left", "baseline": "middle", "fontSize": 11.5, "font": "DejaVu Serif"},
   "encoding": {
    "x": {"field": "x", "type": "quantitative", "axis": null},
    "y": {"field": "ly", "type": "quantitative", "axis": null},
    "text": {"field": "name"},
    "fill": {"field": "name", "type": "nominal", "legend": null}}}
 ]},
{"width": 269, "height": 206,
 "resolve": {"axis": {"x": "independent", "y": "independent"}},
 "layer": [
  {"data": {"name": "band"}, "transform": [{"filter": "datum.p == 4"}],
   "mark": {"type": "rect", "color": "#808080", "opacity": 0.25, "clip": true},
   "encoding": {
    "x": {"field": "x1", "type": "quantitative", "scale": {"domain": [350.83055, 350.85634], "nice": false, "zero": false},
          "axis": {"orient": "bottom", "values": [350.832, 350.840, 350.848, 350.856], "format": ".3f", "tickSize": -4.5, "labelPadding": 9, "title": null}},
    "x2": {"field": "x2"},
    "y": {"field": "lo", "type": "quantitative", "scale": {"domain": [-0.19, 2.44], "nice": false, "zero": false},
          "axis": {"orient": "left", "values": [0, 0.8, 1.6, 2.4], "format": ".1f", "tickSize": -4.5, "labelPadding": 11, "title": null}},
    "y2": {"field": "hi"}}},
  {"data": {"name": "obs4"},
   "mark": {"type": "area", "interpolate": "step", "color": "#808080", "opacity": 0.22, "clip": true},
   "encoding": {
    "x": {"field": "x", "type": "quantitative", "axis": {"orient": "top", "values": [350.832, 350.840, 350.848, 350.856], "labels": false, "tickSize": -4.5, "title": null}},
    "y": {"field": "y", "type": "quantitative", "axis": {"orient": "right", "values": [0, 0.8, 1.6, 2.4], "labels": false, "tickSize": -4.5, "title": null}},
    "y2": {"datum": 0}}},
  {"data": {"name": "hl"}, "transform": [{"filter": "datum.p == 4"}],
   "mark": {"type": "rect", "color": "#ff0000", "opacity": 0.15},
   "encoding": {
    "x": {"field": "lo", "type": "quantitative", "axis": {"orient": "top", "values": [350.834, 350.836, 350.838, 350.842, 350.844, 350.846, 350.850, 350.852, 350.854], "labels": false, "tickSize": -2.5, "title": null}},
    "x2": {"field": "hi"},
    "y": {"field": "h", "type": "quantitative", "axis": {"orient": "right", "values": [0.2, 0.4, 0.6, 1.0, 1.2, 1.4, 1.8, 2.0, 2.2], "labels": false, "tickSize": -2.5, "title": null}},
    "y2": {"datum": 0}}},
  {"data": {"values": [{}]}, "mark": {"type": "rule", "color": "#555", "strokeWidth": 1},
   "encoding": {"y": {"datum": 0, "type": "quantitative", "axis": null}}},
  {"data": {"name": "obs4"},
   "mark": {"type": "line", "interpolate": "step", "strokeWidth": 1.8, "clip": true},
   "encoding": {
    "x": {"field": "x", "type": "quantitative", "axis": {"orient": "bottom", "values": [350.834, 350.836, 350.838, 350.842, 350.844, 350.846, 350.850, 350.852, 350.854], "labels": false, "tickSize": -2.5, "title": null}},
    "y": {"field": "y", "type": "quantitative", "axis": {"orient": "left", "values": [0.2, 0.4, 0.6, 1.0, 1.2, 1.4, 1.8, 2.0, 2.2], "labels": false, "tickSize": -2.5, "title": null}},
    "color": {"field": "s", "type": "nominal", "title": null},
    "strokeDash": {"field": "s", "type": "nominal", "title": null}}},
  {"data": {"name": "mk"}, "transform": [{"filter": "datum.p == 4"}],
   "mark": {"type": "rule", "strokeDash": [4, 2.5], "strokeWidth": 1, "opacity": 0.85},
   "encoding": {
    "x": {"field": "x", "type": "quantitative", "axis": null},
    "y": {"field": "top", "type": "quantitative", "axis": null},
    "y2": {"datum": -0.19},
    "stroke": {"field": "name", "type": "nominal", "legend": null}}},
  {"data": {"name": "hl"}, "transform": [{"filter": "datum.p == 4"}],
   "mark": {"type": "rule", "color": "#ff2020", "strokeDash": [5, 2.5], "strokeWidth": 1.5, "opacity": 0.85},
   "encoding": {"x": {"field": "c", "type": "quantitative", "axis": null}, "y": {"field": "rt", "type": "quantitative", "axis": null}, "y2": {"datum": -0.19}}},
  {"data": {"name": "mod4"}, "transform": [{"filter": "datum.s != 'Total Model'"}],
   "mark": {"type": "line", "interpolate": "monotone", "strokeWidth": 2.2, "clip": true},
   "encoding": {
    "x": {"field": "x", "type": "quantitative", "axis": null},
    "y": {"field": "y", "type": "quantitative", "axis": null},
    "color": {"field": "s", "type": "nominal", "title": null},
    "strokeDash": {"field": "s", "type": "nominal", "title": null}}},
  {"data": {"name": "mod4"}, "transform": [{"filter": "datum.s == 'Total Model'"}],
   "mark": {"type": "line", "interpolate": "monotone", "strokeWidth": 2.4, "clip": true},
   "encoding": {
    "x": {"field": "x", "type": "quantitative", "axis": null},
    "y": {"field": "y", "type": "quantitative", "axis": null},
    "color": {"field": "s", "type": "nominal", "title": null},
    "strokeDash": {"field": "s", "type": "nominal", "title": null}}},
  {"data": {"name": "mk"}, "transform": [{"filter": "datum.p == 4"}],
   "mark": {"type": "text", "angle": 270, "align": "left", "baseline": "middle", "fontSize": 11.5, "font": "DejaVu Serif"},
   "encoding": {
    "x": {"field": "x", "type": "quantitative", "axis": null},
    "y": {"field": "ly", "type": "quantitative", "axis": null},
    "text": {"field": "name"},
    "fill": {"field": "name", "type": "nominal", "legend": null}}}
 ]},
{"width": 269, "height": 206,
 "resolve": {"axis": {"x": "independent", "y": "independent"}},
 "layer": [
  {"data": {"name": "band"}, "transform": [{"filter": "datum.p == 5"}],
   "mark": {"type": "rect", "color": "#808080", "opacity": 0.25, "clip": true},
   "encoding": {
    "x": {"field": "x1", "type": "quantitative", "scale": {"domain": [351.56945, 351.5952], "nice": false, "zero": false},
          "axis": {"orient": "bottom", "values": [351.576, 351.584, 351.592], "format": ".3f", "tickSize": -4.5, "labelPadding": 9,
                   "title": "Rest Frequency (GHz)", "titleFontSize": 17, "titleFont": "DejaVu Serif", "titleFontWeight": "normal", "titleColor": "#000", "titlePadding": 10}},
    "x2": {"field": "x2"},
    "y": {"field": "lo", "type": "quantitative", "scale": {"domain": [-0.195, 1.723], "nice": false, "zero": false},
          "axis": {"orient": "left", "values": [0, 0.5, 1.0, 1.5], "format": ".1f", "tickSize": -4.5, "labelPadding": 11, "title": null}},
    "y2": {"field": "hi"}}},
  {"data": {"name": "obs5"},
   "mark": {"type": "area", "interpolate": "step", "color": "#808080", "opacity": 0.22, "clip": true},
   "encoding": {
    "x": {"field": "x", "type": "quantitative", "axis": {"orient": "top", "values": [351.576, 351.584, 351.592], "labels": false, "tickSize": -4.5, "title": null}},
    "y": {"field": "y", "type": "quantitative", "axis": {"orient": "right", "values": [0, 0.5, 1.0, 1.5], "labels": false, "tickSize": -4.5, "title": null}},
    "y2": {"datum": 0}}},
  {"data": {"name": "hl"}, "transform": [{"filter": "datum.p == 5"}],
   "mark": {"type": "rect", "color": "#ff0000", "opacity": 0.15},
   "encoding": {
    "x": {"field": "lo", "type": "quantitative", "axis": {"orient": "top", "values": [351.570, 351.572, 351.574, 351.578, 351.580, 351.582, 351.586, 351.588, 351.590, 351.594], "labels": false, "tickSize": -2.5, "title": null}},
    "x2": {"field": "hi"},
    "y": {"field": "h", "type": "quantitative", "axis": {"orient": "right", "values": [-0.125, 0.125, 0.25, 0.375, 0.625, 0.75, 0.875, 1.125, 1.25, 1.375, 1.625], "labels": false, "tickSize": -2.5, "title": null}},
    "y2": {"datum": 0}}},
  {"data": {"values": [{}]}, "mark": {"type": "rule", "color": "#555", "strokeWidth": 1},
   "encoding": {"y": {"datum": 0, "type": "quantitative", "axis": null}}},
  {"data": {"name": "obs5"},
   "mark": {"type": "line", "interpolate": "step", "strokeWidth": 1.8, "clip": true},
   "encoding": {
    "x": {"field": "x", "type": "quantitative", "axis": {"orient": "bottom", "values": [351.570, 351.572, 351.574, 351.578, 351.580, 351.582, 351.586, 351.588, 351.590, 351.594], "labels": false, "tickSize": -2.5, "title": null}},
    "y": {"field": "y", "type": "quantitative", "axis": {"orient": "left", "values": [-0.125, 0.125, 0.25, 0.375, 0.625, 0.75, 0.875, 1.125, 1.25, 1.375, 1.625], "labels": false, "tickSize": -2.5, "title": null}},
    "color": {"field": "s", "type": "nominal", "title": null},
    "strokeDash": {"field": "s", "type": "nominal", "title": null}}},
  {"data": {"name": "mk"}, "transform": [{"filter": "datum.p == 5"}],
   "mark": {"type": "rule", "strokeDash": [4, 2.5], "strokeWidth": 1, "opacity": 0.85},
   "encoding": {
    "x": {"field": "x", "type": "quantitative", "axis": null},
    "y": {"field": "top", "type": "quantitative", "axis": null},
    "y2": {"datum": -0.195},
    "stroke": {"field": "name", "type": "nominal", "legend": null}}},
  {"data": {"name": "hl"}, "transform": [{"filter": "datum.p == 5"}],
   "mark": {"type": "rule", "color": "#ff2020", "strokeDash": [5, 2.5], "strokeWidth": 1.5, "opacity": 0.85},
   "encoding": {"x": {"field": "c", "type": "quantitative", "axis": null}, "y": {"field": "rt", "type": "quantitative", "axis": null}, "y2": {"datum": -0.195}}},
  {"data": {"name": "mod5"}, "transform": [{"filter": "datum.s != 'Total Model'"}],
   "mark": {"type": "line", "interpolate": "monotone", "strokeWidth": 2.2, "clip": true},
   "encoding": {
    "x": {"field": "x", "type": "quantitative", "axis": null},
    "y": {"field": "y", "type": "quantitative", "axis": null},
    "color": {"field": "s", "type": "nominal", "title": null},
    "strokeDash": {"field": "s", "type": "nominal", "title": null}}},
  {"data": {"name": "mod5"}, "transform": [{"filter": "datum.s == 'Total Model'"}],
   "mark": {"type": "line", "interpolate": "monotone", "strokeWidth": 2.4, "clip": true},
   "encoding": {
    "x": {"field": "x", "type": "quantitative", "axis": null},
    "y": {"field": "y", "type": "quantitative", "axis": null},
    "color": {"field": "s", "type": "nominal", "title": null},
    "strokeDash": {"field": "s", "type": "nominal", "title": null}}},
  {"data": {"name": "mk"}, "transform": [{"filter": "datum.p == 5"}],
   "mark": {"type": "text", "angle": 270, "align": "left", "baseline": "middle", "fontSize": 11.5, "font": "DejaVu Serif"},
   "encoding": {
    "x": {"field": "x", "type": "quantitative", "axis": null},
    "y": {"field": "ly", "type": "quantitative", "axis": null},
    "text": {"field": "name"},
    "fill": {"field": "name", "type": "nominal", "legend": null}}}
 ]}
],
"columns": 3,
"spacing": {"row": 79, "column": 58.5},
"bounds": "flush",
"config": {
 "font": "DejaVu Serif",
 "view": {"stroke": "#000", "strokeWidth": 1.2},
 "axis": {"domain": false, "grid": false, "ticks": true, "tickColor": "#000", "tickWidth": 1, "labelFont": "DejaVu Serif", "labelFontSize": 12.5, "labelColor": "#111", "labelFlush": false, "labelOverlap": false},
 "legend": {"orient": "none", "direction": "horizontal", "legendX": 205, "legendY": -117, "columns": 5, "symbolType": "M-1,0H2", "symbolSize": 300, "symbolStrokeWidth": 2, "labelFont": "DejaVu Serif", "labelFontSize": 13, "labelColor": "#111", "padding": 5, "strokeColor": "#cccccc", "fillColor": "#ffffff", "cornerRadius": 3, "columnPadding": 8, "rowPadding": 2, "labelOffset": 14.7}
}
}
